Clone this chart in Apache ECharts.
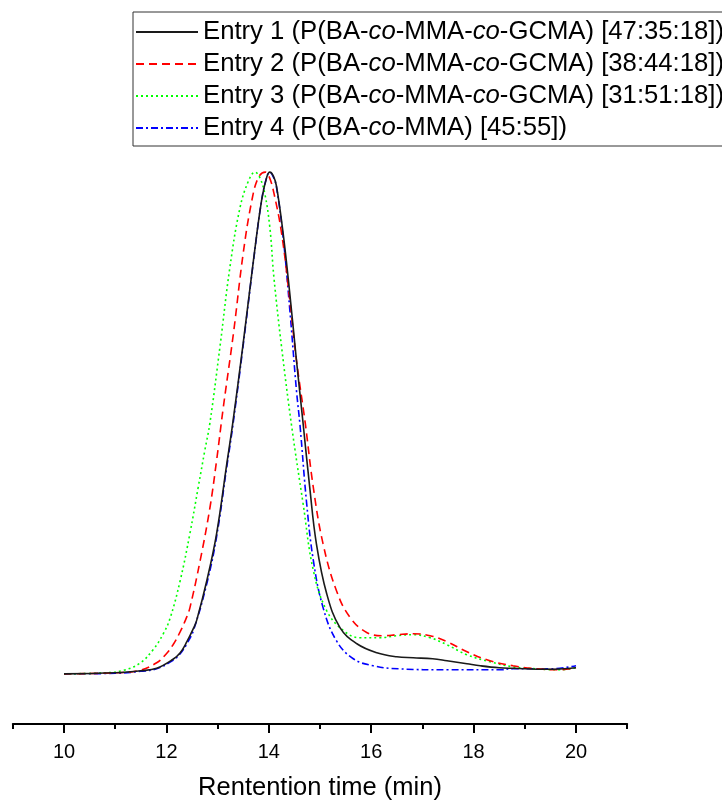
<!DOCTYPE html>
<html>
<head>
<meta charset="utf-8">
<script src="https://cdn.jsdelivr.net/npm/echarts@6/dist/echarts.min.js"></script>
<style>html,body{margin:0;padding:0;background:#fff;}#c{width:722px;height:800px;}</style>
</head>
<body>
<div id="c"></div>
<script>
var seriesNames = [
  'Entry 1 (P(BA-co-MMA-co-GCMA) [47:35:18])',
  'Entry 2 (P(BA-co-MMA-co-GCMA) [38:44:18])',
  'Entry 3 (P(BA-co-MMA-co-GCMA) [31:51:18])',
  'Entry 4 (P(BA-co-MMA) [45:55])'
];
var majorTicks = [10, 12, 14, 16, 18, 20];
var minorTicks = [9, 11, 13, 15, 17, 19, 21];
var xTitle = 'Rentention time (min)';

// [retention time (min), normalized intensity]
var entry1 = [[10,0],[11,0.002],[11.5,0.006],[11.81,0.011],[12.13,0.029],[12.27,0.042],[12.4,0.064],[12.53,0.091],[12.59,0.106],[12.79,0.186],[12.98,0.279],[13.18,0.419],[13.29,0.495],[13.5,0.659],[13.7,0.824],[13.86,0.944],[13.96,0.990],[14.02,1.0],[14.09,0.992],[14.15,0.972],[14.28,0.878],[14.41,0.758],[14.54,0.625],[14.67,0.499],[14.8,0.371],[14.93,0.259],[15.13,0.160],[15.39,0.092],[15.72,0.060],[16.11,0.042],[16.5,0.034],[16.82,0.032],[17.2,0.030],[17.48,0.026],[17.87,0.020],[18.13,0.016],[18.5,0.012],[18.77,0.011],[19.43,0.009],[20,0.012]];
var entry2 = [[10,0],[11,0.002],[11.48,0.007],[11.81,0.022],[12.0,0.040],[12.13,0.058],[12.27,0.084],[12.4,0.114],[12.46,0.132],[12.66,0.226],[12.85,0.331],[12.98,0.425],[13.11,0.530],[13.31,0.679],[13.5,0.838],[13.67,0.944],[13.8,0.990],[13.93,1.0],[14.01,0.99],[14.1,0.958],[14.25,0.878],[14.41,0.745],[14.54,0.625],[14.71,0.501],[14.87,0.371],[15.06,0.259],[15.32,0.166],[15.59,0.112],[15.92,0.082],[16.24,0.076],[16.5,0.078],[16.82,0.080],[17.15,0.076],[17.48,0.064],[17.87,0.044],[18.32,0.026],[18.77,0.016],[19.23,0.010],[19.69,0.008],[20,0.012]];
var entry3 = [[10,0],[10.8,0.002],[11.16,0.007],[11.48,0.021],[11.74,0.048],[11.94,0.080],[12.07,0.110],[12.27,0.186],[12.46,0.280],[12.62,0.371],[12.75,0.445],[12.85,0.500],[13.05,0.655],[13.24,0.810],[13.44,0.930],[13.61,0.984],[13.73,1.0],[13.82,0.99],[13.92,0.958],[14.02,0.890],[14.1,0.790],[14.25,0.651],[14.45,0.491],[14.67,0.339],[14.87,0.206],[15.13,0.126],[15.46,0.086],[15.78,0.072],[16.17,0.072],[16.5,0.076],[16.82,0.078],[17.15,0.072],[17.48,0.058],[17.87,0.038],[18.32,0.024],[18.77,0.014],[19.23,0.010],[19.69,0.008],[20,0.012]];
var entry4 = [[10,0],[11,0.001],[11.5,0.005],[11.81,0.010],[12.13,0.027],[12.27,0.040],[12.4,0.060],[12.53,0.087],[12.79,0.180],[12.98,0.273],[13.18,0.413],[13.29,0.489],[13.5,0.655],[13.7,0.822],[13.86,0.944],[13.96,0.990],[14.02,1.0],[14.09,0.990],[14.15,0.970],[14.28,0.870],[14.41,0.726],[14.54,0.565],[14.61,0.495],[14.74,0.339],[14.87,0.226],[15.06,0.132],[15.32,0.066],[15.65,0.030],[16.04,0.016],[16.53,0.010],[17.5,0.008],[18.5,0.008],[18.77,0.010],[19.5,0.010],[20,0.016]];

var dataSets = [entry1, entry2, entry3, entry4];
var colors = ['#1a1a1a', '#ff0000', '#00ff00', '#0000ff'];
var dashes = ['solid', [8, 5], [2, 3], [7, 3, 2, 3]];

var chart = echarts.init(document.getElementById('c'));
var font = '"Liberation Sans", Arial, sans-serif';
var series = dataSets.map(function (d, i) {
  return {
    name: seriesNames[i],
    type: 'line',
    data: d,
    smooth: 0.4,
    symbol: 'none',
    showSymbol: false,
    clip: false,
    z: 10 - i,
    lineStyle: { color: colors[i], width: 1.6, type: dashes[i] },
    itemStyle: { color: colors[i] }
  };
});
chart.setOption({
  animation: false,
  backgroundColor: '#fff',
  grid: { left: 12.8, right: 94.8, top: 147, bottom: 76, containLabel: false, outerBoundsMode: 'none' },
  legend: {
    orient: 'vertical',
    left: 133,
    top: 12,
    padding: [7, 6, 5, 2],
    itemGap: 6,
    itemWidth: 62,
    itemHeight: 14,
    borderColor: '#333',
    borderWidth: 1,
    selectedMode: false,
    itemStyle: { opacity: 0 },
    data: seriesNames,
    formatter: function (n) { return n.replace(/-co-/g, '-{i|co}-'); },
    textStyle: {
      fontFamily: font, fontSize: 25.7, color: '#000', lineHeight: 26,
      rich: { i: { fontFamily: font, fontSize: 25.7, fontStyle: 'italic', color: '#000', lineHeight: 26 } }
    }
  },
  xAxis: [{
    type: 'value',
    min: 9, max: 21,
    position: 'bottom',
    name: xTitle,
    nameLocation: 'middle',
    nameGap: 51,
    nameTextStyle: { fontFamily: font, fontSize: 25.5, color: '#000' },
    axisLine: { show: true, onZero: false, lineStyle: { color: '#000', width: 2 } },
    axisTick: { show: true, customValues: majorTicks, length: 9, inside: false, lineStyle: { color: '#000', width: 2 } },
    axisLabel: { customValues: majorTicks, fontFamily: font, fontSize: 20, color: '#000', margin: 18 },
    splitLine: { show: false }
  }, {
    type: 'value',
    min: 9, max: 21,
    position: 'bottom',
    axisLine: { show: false, onZero: false },
    axisTick: { show: true, customValues: minorTicks, length: 5, lineStyle: { color: '#000', width: 2 } },
    axisLabel: { show: false },
    splitLine: { show: false }
  }],
  yAxis: {
    type: 'value', min: -0.1, max: 1.05, show: false, splitLine: { show: false }
  },
  series: series
});
</script>
</body>
</html>
